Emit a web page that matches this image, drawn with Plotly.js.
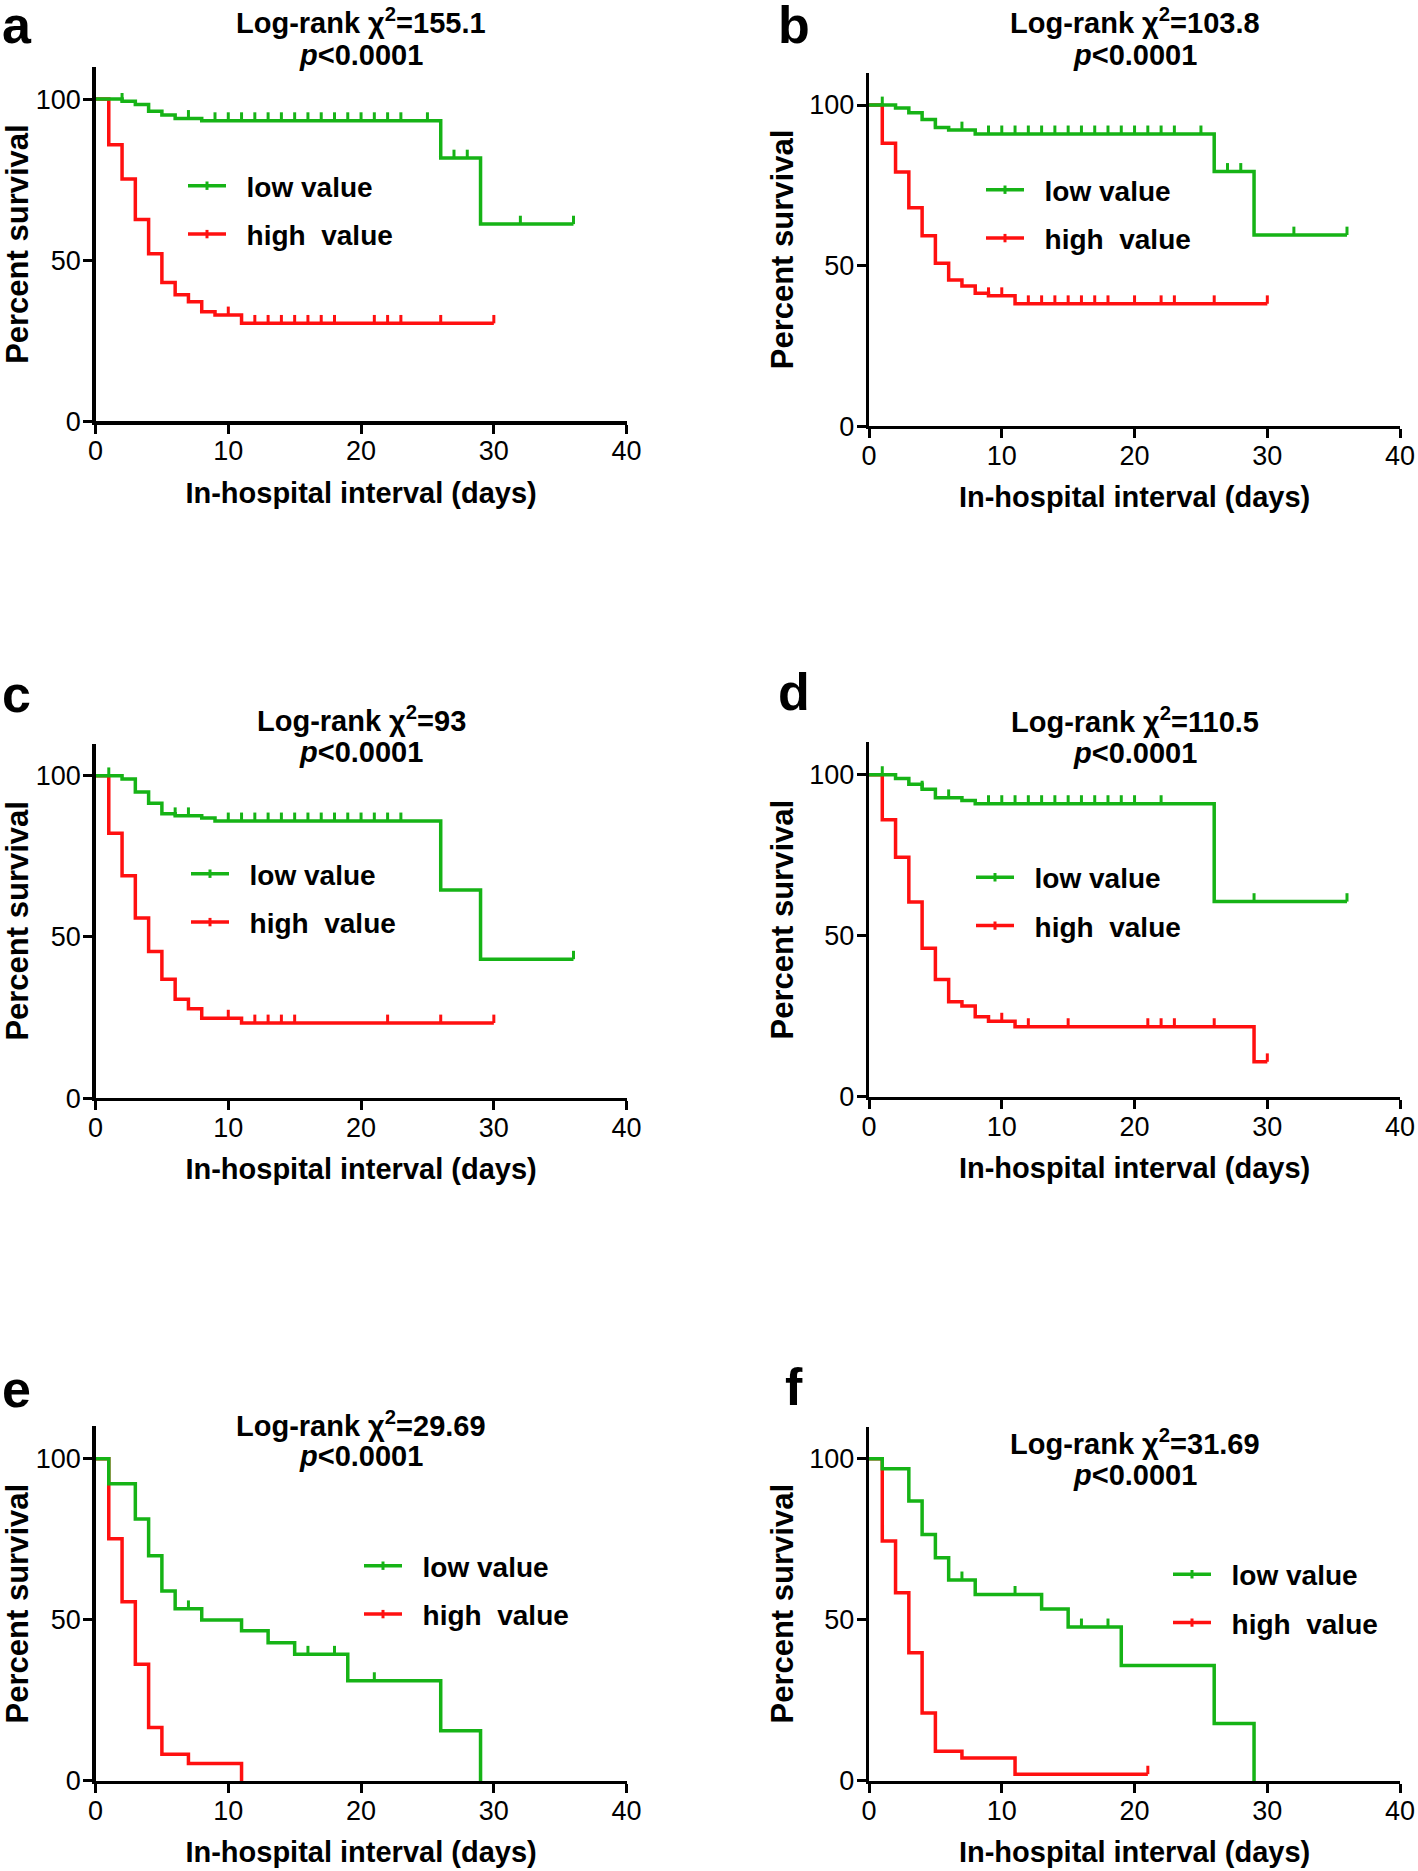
<!DOCTYPE html>
<html><head><meta charset="utf-8">
<script src="https://cdn.plot.ly/plotly-3.0.1.min.js"></script>
<style>html,body{margin:0;padding:0;background:#fff}#chart{width:1418px;height:1871px}</style>
</head><body><div id="chart"></div>
<script>
// ---------- DATA ----------
const xTicks = [0, 10, 20, 30, 40];
const yTicks = [0, 50, 100];
const seriesNames = ['low value', 'high\u00a0 value'];
const panelLetters = ['a', 'b', 'c', 'd', 'e', 'f'];
const chiValues = ['155.1', '103.8', '93', '110.5', '29.69', '31.69'];
const pText = '<i>p</i>&lt;0.0001';

// panel a
const aLowT  = [0, 2, 3, 4, 5, 6, 8, 26, 29, 36];
const aLowS  = [100, 99.3, 98.3, 96.2, 95.1, 94.0, 93.3, 81.7, 61.2, 61.2];
const aLowC  = [2, 7, 9, 10, 11, 12, 13, 14, 15, 16, 17, 18, 19, 20, 21, 22, 23, 25, 27, 28, 32, 36];
const aHighT = [0, 1, 2, 3, 4, 5, 6, 7, 8, 9, 11, 30];
const aHighS = [100, 85.8, 75.2, 62.6, 52.0, 43.1, 39.3, 37.1, 34.0, 33.0, 30.4, 30.4];
const aHighC = [10, 12, 13, 14, 15, 16, 17, 18, 21, 22, 23, 26, 30];
// panel b
const bLowT  = [0, 2, 3, 4, 5, 6, 8, 26, 29, 36];
const bLowS  = [100, 99.1, 97.6, 95.5, 93.0, 92.2, 91.0, 79.3, 59.5, 59.5];
const bLowC  = [1, 5, 7, 9, 10, 11, 12, 13, 14, 15, 16, 17, 18, 19, 20, 21, 22, 23, 25, 27, 28, 32, 36];
const bHighT = [0, 1, 2, 3, 4, 5, 6, 7, 8, 9, 11, 30];
const bHighS = [100, 88.1, 79.1, 68.0, 59.3, 50.7, 45.5, 43.6, 41.4, 40.6, 38.1, 38.1];
const bHighC = [9, 10, 12, 13, 14, 15, 16, 17, 18, 20, 22, 23, 26, 30];
// panel c
const cLowT  = [0, 2, 3, 4, 5, 6, 8, 9, 26, 29, 36];
const cLowS  = [100, 99.0, 95.0, 91.5, 88.2, 87.6, 86.9, 86.0, 64.6, 43.1, 43.1];
const cLowC  = [1, 6, 7, 10, 11, 12, 13, 14, 15, 16, 17, 18, 19, 20, 21, 22, 23, 36];
const cHighT = [0, 1, 2, 3, 4, 5, 6, 7, 8, 11, 30];
const cHighS = [100, 82.2, 69.0, 55.9, 45.5, 36.9, 30.7, 27.7, 24.8, 23.3, 23.3];
const cHighC = [10, 12, 13, 14, 15, 22, 26, 30];
// panel d
const dLowT  = [0, 2, 3, 4, 5, 7, 8, 26, 36];
const dLowS  = [100, 98.8, 97.0, 95.5, 92.8, 92.0, 91.0, 60.6, 60.6];
const dLowC  = [1, 4, 6, 9, 10, 11, 12, 13, 14, 15, 16, 17, 18, 19, 20, 22, 29, 36];
const dHighT = [0, 1, 2, 3, 4, 5, 6, 7, 8, 9, 11, 29, 30];
const dHighS = [100, 86.0, 74.4, 60.5, 46.1, 36.4, 29.5, 28.2, 24.9, 23.5, 21.8, 10.9, 10.9];
const dHighC = [10, 12, 15, 21, 22, 23, 26, 30];
// panel e
const eLowT  = [0, 1, 3, 4, 5, 6, 8, 11, 13, 15, 19, 26, 29];
const eLowS  = [100, 92.2, 81.3, 69.9, 58.9, 53.4, 49.9, 46.6, 42.9, 39.3, 31.1, 15.6, 0];
const eLowC  = [7, 16, 18, 21];
const eHighT = [0, 1, 2, 3, 4, 5, 7, 11];
const eHighS = [100, 75.1, 55.6, 36.2, 16.6, 8.3, 5.4, 0];
const eHighC = [];
// panel f
const fLowT  = [0, 1, 3, 4, 5, 6, 8, 13, 15, 19, 26, 29];
const fLowS  = [100, 96.9, 86.9, 76.5, 69.3, 62.4, 57.9, 53.4, 47.8, 35.8, 17.8, 0];
const fLowC  = [7, 11, 16, 18];
const fHighT = [0, 1, 2, 3, 4, 5, 7, 11, 21];
const fHighS = [100, 74.5, 58.4, 39.8, 21.1, 9.2, 7.1, 2.1, 2.1];
const fHighC = [21];

// ---------- LAYOUT / STYLE ----------
const W = 1418, H = 1871;
const GREEN = '#16b316', RED = '#ff1010';
const FONT = '"Liberation Sans", Arial, Helvetica, sans-serif';
const LEG_PAD = '\u00a0\u00a0';

const lowData  = [[aLowT,aLowS,aLowC],[bLowT,bLowS,bLowC],[cLowT,cLowS,cLowC],[dLowT,dLowS,dLowC],[eLowT,eLowS,eLowC],[fLowT,fLowS,fLowC]];
const highData = [[aHighT,aHighS,aHighC],[bHighT,bHighS,bHighC],[cHighT,cHighS,cHighC],[dHighT,dHighS,dHighC],[eHighT,eHighS,eHighC],[fHighT,fHighS,fHighC]];

// geometry in page pixels: x of day 0, x of day 40, y of 0 %, y of axis top (110 %)
const geo = [
  {x0: 95.5, x1: 626.6, y0: 421.3, yt: 66.9, t1: 21.5, t2: 55, lx: 183, ly: 185, let: [0, 25]},
  {x0: 869.0, x1: 1400.1, y0: 426.1, yt: 72.9, t1: 21.5, t2: 55, lx: 981, ly: 189, let: [776, 25]},
  {x0: 95.5, x1: 626.6, y0: 1098.1, yt: 743.6, t1: 718.5, t2: 752, lx: 186, ly: 873, let: [0, 694]},
  {x0: 869.0, x1: 1400.1, y0: 1096.9, yt: 742.4, t1: 719.7, t2: 753, lx: 971, ly: 876.5, let: [776, 692]},
  {x0: 95.5, x1: 626.6, y0: 1780.9, yt: 1426.4, t1: 1424, t2: 1456, lx: 359, ly: 1565, let: [0, 1389]},
  {x0: 869.0, x1: 1400.1, y0: 1780.9, yt: 1426.6, t1: 1442, t2: 1475, lx: 1168, ly: 1573.5, let: [783, 1387]}
];

function levelAt(t, times, surv) {
  let s = surv[0];
  for (let i = 0; i < times.length; i++) if (times[i] <= t) s = surv[i];
  return s;
}

const traces = [];
const layout = {
  width: W, height: H,
  margin: {l: 0, r: 0, t: 0, b: 0},
  paper_bgcolor: '#fff', plot_bgcolor: 'rgba(0,0,0,0)',
  showlegend: true, hovermode: false,
  font: {family: FONT, color: '#000'},
  annotations: []
};

geo.forEach((g, i) => {
  const n = i + 1;
  const xa = n === 1 ? 'x' : 'x' + n;
  const ya = n === 1 ? 'y' : 'y' + n;
  const legId = n === 1 ? 'legend' : 'legend' + n;
  const pxPerUnit = (g.y0 - g.yt) / 110;
  const tickOff = 4.2 / pxPerUnit;

  [[highData[i], RED], [lowData[i], GREEN]].forEach(([d, col]) => {
    const [T, S, C] = d;
    traces.push({
      type: 'scatter', mode: 'lines', x: T, y: S, xaxis: xa, yaxis: ya,
      line: {color: col, width: 3.5, shape: 'hv'}, showlegend: false, cliponaxis: false, hoverinfo: 'skip'
    });
    if (C.length) {
      traces.push({
        type: 'scatter', mode: 'markers', x: C, y: C.map(t => levelAt(t, T, S) + tickOff),
        xaxis: xa, yaxis: ya, showlegend: false, cliponaxis: false, hoverinfo: 'skip',
        marker: {symbol: 'line-ns', size: 6, color: col, line: {color: col, width: 3}}
      });
    }
  });
  // legend entries
  [[seriesNames[0], GREEN], [seriesNames[1], RED]].forEach(([nm, col], k) => {
    traces.push({
      type: 'scatter', mode: 'lines+markers', x: [null], y: [null], xaxis: xa, yaxis: ya,
      name: LEG_PAD + nm, legend: legId, legendgroup: 'g' + n + '_' + k, hoverinfo: 'skip',
      line: {color: col, width: 3.5},
      marker: {symbol: 'line-ns', size: 6, color: col, line: {color: col, width: 3}}
    });
  });

  layout['xaxis' + (n === 1 ? '' : n)] = {
    domain: [g.x0 / W, g.x1 / W], anchor: ya, range: [0, 40],
    tickvals: xTicks, ticktext: xTicks.map(String), ticks: 'outside', ticklen: 9, tickwidth: 3, tickcolor: '#000',
    showline: true, linewidth: 3.2, linecolor: '#000', showgrid: false, zeroline: false,
    tickfont: {family: FONT, size: 27, color: '#000'}, ticklabelstandoff: -6,
    title: {text: 'In-hospital interval (days)', font: {family: FONT, size: 29, weight: 700, color: '#000'}, standoff: 18},
    automargin: false, fixedrange: true
  };
  layout['yaxis' + (n === 1 ? '' : n)] = {
    domain: [1 - g.y0 / H, 1 - g.yt / H], anchor: xa, range: [0, 110],
    tickvals: yTicks, ticktext: yTicks.map(String), ticks: 'outside', ticklen: 9, tickwidth: 3, tickcolor: '#000',
    showline: true, linewidth: 3.2, linecolor: '#000', showgrid: false, zeroline: false,
    tickfont: {family: FONT, size: 27, color: '#000'}, ticklabelstandoff: -3,
    title: {text: 'Percent survival', font: {family: FONT, size: 31, weight: 700, color: '#000'}, standoff: 7},
    automargin: false, fixedrange: true
  };
  layout[legId] = {
    x: g.lx / W, y: 1 - (g.ly - 24) / H, xanchor: 'left', yanchor: 'top',
    bgcolor: 'rgba(0,0,0,0)', borderwidth: 0, itemwidth: 38,
    font: {family: FONT, size: 28, weight: 700, color: '#000'},
    traceorder: 'grouped', tracegroupgap: 9, itemclick: false, itemdoubleclick: false
  };

  const cx = (g.x0 + g.x1) / 2 / W;
  layout.annotations.push(
    {xref: 'paper', yref: 'paper', x: cx, y: 1 - g.t1 / H, xanchor: 'center', yanchor: 'middle', showarrow: false,
     text: 'Log-rank χ<sup>2</sup>=' + chiValues[i], font: {family: FONT, size: 29, weight: 700, color: '#000'}},
    {xref: 'paper', yref: 'paper', x: cx, y: 1 - g.t2 / H, xanchor: 'center', yanchor: 'middle', showarrow: false,
     text: pText, font: {family: FONT, size: 29, weight: 700, color: '#000'}},
    {xref: 'paper', yref: 'paper', x: g.let[0] / W, y: 1 - g.let[1] / H, xanchor: 'left', yanchor: 'middle', showarrow: false,
     text: panelLetters[i], font: {family: FONT, size: 52, weight: 700, color: '#000'}}
  );
});

Plotly.newPlot('chart', traces, layout, {staticPlot: true, displayModeBar: false});
</script>
</body></html>
